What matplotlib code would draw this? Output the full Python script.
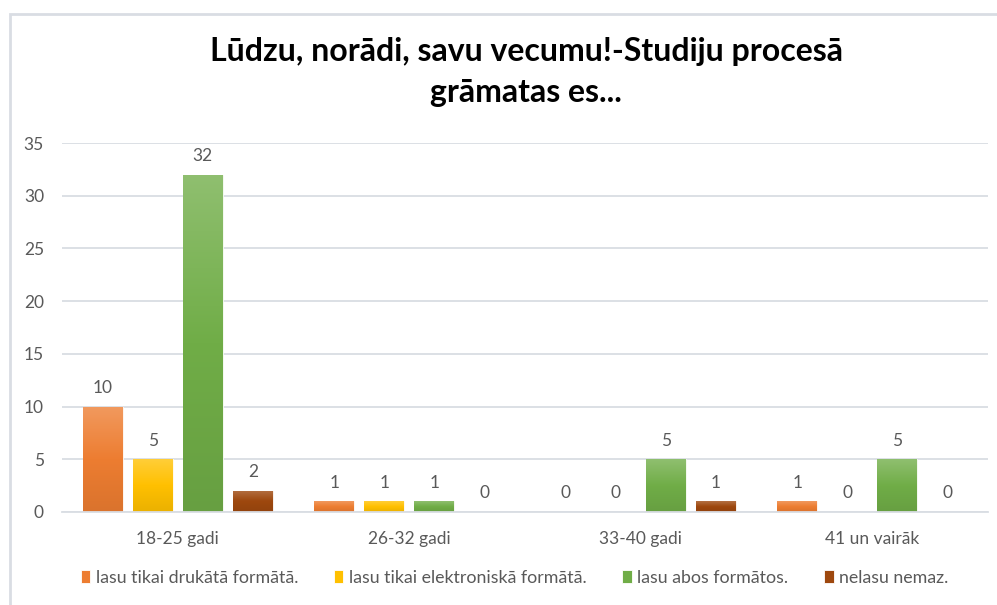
import numpy as np
import matplotlib
matplotlib.use("Agg")
import matplotlib.pyplot as plt
from matplotlib.patches import Rectangle
from matplotlib.colors import LinearSegmentedColormap, to_rgb

categories = ["18-25 gadi", "26-32 gadi", "33-40 gadi", "41 un vairāk"]
series_names = ["lasu tikai drukātā formātā.", "lasu tikai elektroniskā formātā.",
                "lasu abos formātos.", "nelasu nemaz."]
values = [
    [10, 1, 0, 1],
    [5, 1, 0, 0],
    [32, 1, 5, 5],
    [2, 0, 1, 0],
]
colors = ["#ED7D31", "#FFC000", "#70AD47", "#9E480E"]
title = "Lūdzu, norādi, savu vecumu!-Studiju procesā\ngrāmatas es..."

plt.rcParams['font.family'] = ['Lato', 'DejaVu Sans']
txt_color = "#595959"
grid_color = "#D9DDE3"

fig = plt.figure(figsize=(9.97, 6.05), dpi=100)
W, H = 997, 605
# chart border
fig.add_artist(Rectangle((10 / W, -0.05), 1.2, (H - 14) / H + 0.05, transform=fig.transFigure,
                         fill=False, edgecolor="#D9DDE3", linewidth=2))

ax = fig.add_axes([62 / W, (H - 512) / H, (988 - 62) / W, (512 - 143) / H])
ax.set_xlim(-0.5, 3.5)
ax.set_ylim(0, 35)
ax.set_yticks(range(0, 36, 5))
ax.yaxis.grid(True, color=grid_color, linewidth=1.3)
ax.set_axisbelow(True)
for s in ["top", "right", "left"]:
    ax.spines[s].set_visible(False)
ax.spines["bottom"].set_color(grid_color)
ax.spines["bottom"].set_linewidth(1.3)
ax.tick_params(axis="both", length=0, colors=txt_color, labelsize=12.5)
ax.tick_params(axis="y", pad=13)
ax.tick_params(axis="x", pad=14)
x = np.arange(len(categories))
ax.set_xticks(x)
ax.set_xticklabels(categories)

bw = 0.172
step = 0.216
for i, (name, vals, c) in enumerate(zip(series_names, values, colors)):
    pos = x + (i - 1.5) * step
    bars = ax.bar(pos, vals, width=bw, color=c, edgecolor="white", linewidth=0.6,
                  label=name, zorder=2)
    base = np.array(to_rgb(c))
    light = base + (1 - base) * 0.22
    dark = base * 0.92
    cmap = LinearSegmentedColormap.from_list("g%d" % i, [dark, base, light])
    grad = np.linspace(0, 1, 256).reshape(-1, 1)
    for b, v in zip(bars, vals):
        if v > 0:
            im = ax.imshow(grad, cmap=cmap, origin="lower", aspect="auto",
                           extent=[b.get_x(), b.get_x() + b.get_width(), 0, v], zorder=2.5)
            im.set_clip_path(b)
        ax.text(b.get_x() + b.get_width() / 2, v + 1.0, str(v), ha="center", va="bottom",
                color=txt_color, fontsize=12.5)
ax.set_xlim(-0.5, 3.5)
ax.set_ylim(0, 35)

fig.text(0.528, (H - 72) / H, title, ha="center", va="center", fontsize=23,
         fontweight="bold", color="black", linespacing=1.52)

leg = fig.legend(loc="center", bbox_to_anchor=(0.516, (H - 578) / H), ncol=4, frameon=False,
                 fontsize=12.8, handlelength=0.55, handleheight=0.75, handletextpad=0.3,
                 columnspacing=2.0, labelcolor=txt_color)

fig.savefig("out.png", dpi=100)
